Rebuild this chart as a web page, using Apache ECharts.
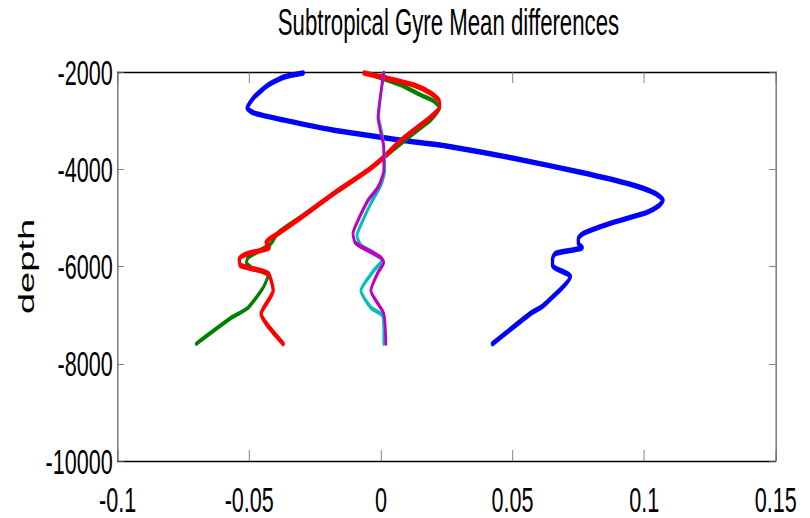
<!DOCTYPE html>
<html>
<head>
<meta charset="utf-8">
<title>Subtropical Gyre Mean differences</title>
<script src="https://cdn.jsdelivr.net/npm/echarts@6/dist/echarts.min.js"></script>
<style>
  html, body { margin: 0; padding: 0; background: #fff; overflow: hidden; }
  /* The figure is laid out wide and then compressed horizontally,
     giving the tall, narrow lettering and the thin vertical strokes. */
  #chart { width: 1350px; height: 518px; transform: scaleX(0.6); transform-origin: 0 0; }
</style>
</head>
<body>
<div id="chart"></div>
<script>
// Axis settings and tick labels
const xMin = -0.1, xMax = 0.15, xStep = 0.05;
const xTickLabels = ['-0.1', '-0.05', '0', '0.05', '0.1', '0.15'];
const yMin = -10000, yMax = -2000, yStep = 2000;
const yTickLabels = ['-10000', '-8000', '-6000', '-4000', '-2000'];

// Mean difference profiles (value, depth)
const depthBlue = [-2021, -2103, -2268, -2515, -2742, -2845, -2990, -3196, -3402, -3526, -3773, -4062, -4309, -4495, -4639, -4763, -4887, -5113, -5320, -5423, -5526, -5608, -5732, -5835, -5979, -6206, -6804, -6969, -7588];
const diffBlue = [-0.0295, -0.0367, -0.0428, -0.0481, -0.0508, -0.0481, -0.0367, -0.0178, 0.0076, 0.0254, 0.0504, 0.0758, 0.0947, 0.1042, 0.1072, 0.1053, 0.1011, 0.0871, 0.0769, 0.0750, 0.0750, 0.0765, 0.0663, 0.0652, 0.0652, 0.0720, 0.0617, 0.0568, 0.0424];

const depthGreen = [-2021, -2124, -2268, -2474, -2598, -2742, -2990, -3258, -3526, -3814, -4124, -4495, -4845, -5299, -5526, -5815, -5918, -6021, -6186, -6433, -6845, -7052, -7588];
const diffGreen = [-0.0057, 0, 0.0076, 0.0152, 0.0201, 0.0223, 0.0189, 0.0125, 0.0064, 0, -0.0076, -0.0178, -0.0265, -0.0390, -0.0417, -0.0504, -0.0511, -0.0492, -0.0428, -0.0447, -0.0504, -0.0568, -0.0701];

const depthRed = [-2021, -2124, -2268, -2433, -2577, -2722, -2928, -3196, -3464, -3753, -4021, -4495, -4990, -5320, -5505, -5608, -5732, -5835, -5979, -6144, -6495, -6969, -7588];
const diffRed = [-0.0064, 0.0019, 0.0125, 0.0189, 0.0220, 0.0223, 0.0189, 0.0125, 0.0064, 0.0011, -0.0049, -0.0178, -0.0303, -0.0390, -0.0436, -0.0424, -0.0504, -0.0538, -0.0534, -0.0428, -0.0409, -0.0455, -0.0371];

const depthCyan = [-2021, -2433, -2928, -3258, -3547, -4021, -4330, -4701, -5093, -5361, -5567, -5712, -5876, -6083, -6495, -6845, -7031, -7588];
const diffCyan = [0.0011, 0, -0.0008, 0.0004, 0.0011, 0.0015, 0, -0.0038, -0.0072, -0.0091, -0.0076, -0.0030, 0.0004, -0.0027, -0.0076, -0.0038, 0.0008, 0.0011];

const depthMagenta = [-2021, -2433, -2928, -3258, -3547, -4021, -4371, -4639, -5052, -5320, -5505, -5629, -5815, -5918, -6124, -6495, -6969, -7588];
const diffMagenta = [0.0011, 0, -0.0011, 0, 0.0011, 0.0011, -0.0011, -0.0049, -0.0087, -0.0106, -0.0098, -0.0064, 0, 0.0011, -0.0011, -0.0038, 0.0011, 0.0019];

const FONT = '"Liberation Sans", Arial, Helvetica, sans-serif';

function pairs(values, depths) {
  return values.map((v, i) => [v, depths[i]]);
}

function profile(values, depths, color, width) {
  return {
    type: 'line',
    data: pairs(values, depths),
    showSymbol: false,
    symbol: 'none',
    smooth: 0.2,
    clip: true,
    lineStyle: { color: color, width: width, cap: 'round', join: 'round' },
    emphasis: { disabled: true }
  };
}

// Box frame: every side carries its own axis line with inward ticks
const tickStyle = { show: true, inside: true, length: 11, lineStyle: { color: '#666', width: 1 } };
const frameLine = { show: true, onZero: false, lineStyle: { color: '#000', width: 1.3 } };

const chart = echarts.init(document.getElementById('chart'), null, { renderer: 'svg' });
chart.setOption({
  animation: false,
  backgroundColor: '#fff',
  title: {
    text: 'Subtropical Gyre Mean differences',
    left: 463,
    top: 3,
    padding: 0,
    textStyle: { fontFamily: FONT, fontSize: 37, fontWeight: 'normal', color: '#000' }
  },
  grid: { left: 196, right: 57, top: 72, bottom: 57, containLabel: false },
  xAxis: [
    {
      type: 'value', position: 'bottom', min: xMin, max: xMax, interval: xStep,
      axisLine: frameLine, axisTick: tickStyle, splitLine: { show: false },
      axisLabel: {
        show: true, margin: 20, color: '#000', fontFamily: FONT, fontSize: 36,
        formatter: v => xTickLabels[Math.round((v - xMin) / xStep)]
      }
    },
    {
      type: 'value', position: 'top', min: xMin, max: xMax, interval: xStep,
      axisLine: frameLine, axisTick: tickStyle, splitLine: { show: false },
      axisLabel: { show: false }
    }
  ],
  yAxis: [
    {
      type: 'value', position: 'left', min: yMin, max: yMax, interval: yStep,
      name: 'depth', nameLocation: 'middle', nameGap: 133, nameRotate: 90,
      nameTextStyle: { fontFamily: FONT, fontSize: 38, color: '#000' },
      axisLine: frameLine, axisTick: tickStyle, splitLine: { show: false },
      axisLabel: {
        show: true, margin: 8, color: '#000', fontFamily: FONT, fontSize: 36,
        padding: [9, 0, 0, 0],
        formatter: v => yTickLabels[Math.round((v - yMin) / yStep)]
      }
    },
    {
      type: 'value', position: 'right', min: yMin, max: yMax, interval: yStep,
      axisLine: frameLine, axisTick: tickStyle, splitLine: { show: false },
      axisLabel: { show: false }
    }
  ],
  series: [
    profile(diffBlue, depthBlue, '#0000ff', 5.5),
    profile(diffGreen, depthGreen, '#008000', 4.5),
    profile(diffRed, depthRed, '#ff0000', 5.5),
    profile(diffCyan, depthCyan, '#00bfbf', 4.5),
    profile(diffMagenta, depthMagenta, '#bf00bf', 4.5)
  ]
});
</script>
</body>
</html>
